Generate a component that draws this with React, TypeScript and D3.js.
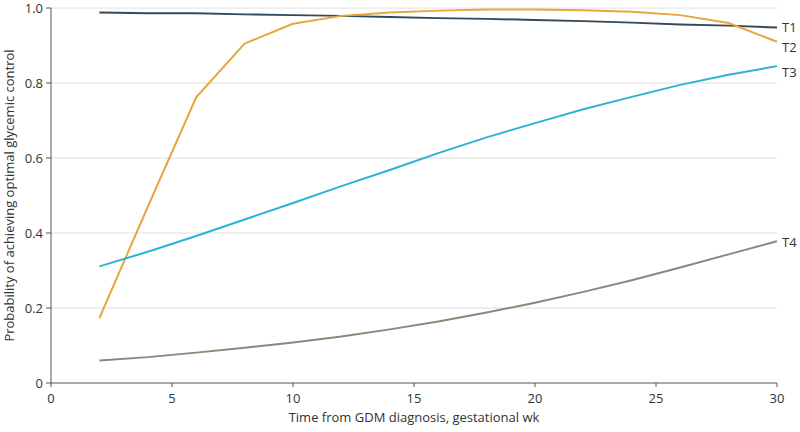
import * as d3 from "d3";
import React from "react";

const weeks = [2, 4, 6, 8, 10, 12, 14, 16, 18, 20, 22, 24, 26, 28, 30];
const t1 = [0.988, 0.986, 0.986, 0.983, 0.981, 0.979, 0.976, 0.973, 0.971, 0.968, 0.965, 0.961, 0.956, 0.953, 0.948];
const t2 = [0.173, 0.47, 0.762, 0.905, 0.958, 0.979, 0.988, 0.993, 0.996, 0.996, 0.994, 0.99, 0.981, 0.96, 0.91];
const t3 = [0.311, 0.35, 0.392, 0.436, 0.48, 0.525, 0.568, 0.613, 0.655, 0.693, 0.73, 0.763, 0.795, 0.822, 0.845];
const t4 = [0.06, 0.069, 0.081, 0.094, 0.108, 0.124, 0.143, 0.164, 0.188, 0.214, 0.243, 0.274, 0.308, 0.343, 0.378];

const seriesNames = ["T1", "T2", "T3", "T4"];
const seriesValues = [t1, t2, t3, t4];
const seriesColors = ["#34495a", "#e8a53c", "#2bb3d1", "#8a8977"];
const labelNudge = [0, 6, 6, 1];

const xTicks = [0, 5, 10, 15, 20, 25, 30];
const yTicks = [0, 0.2, 0.4, 0.6, 0.8, 1.0];

const width = 800;
const height = 432;
const margin = { top: 8, right: 23, bottom: 49, left: 51 };
const font = "'Open Sans', 'Noto Sans', sans-serif";

export default function App() {
  const x = d3.scaleLinear().domain([0, 30]).range([margin.left, width - margin.right]);
  const y = d3.scaleLinear().domain([0, 1]).range([height - margin.bottom, margin.top]);

  const line = d3
    .line<number>()
    .x((_, i) => x(weeks[i]))
    .y((d) => y(d));

  const x0 = x(0);
  const x1 = x(30);
  const y0 = y(0);

  return (
    <div style={{ position: "absolute", left: 0, top: 0 }}>
      <svg width={width} height={height} style={{ display: "block", fontFamily: font }}>
        <rect width={width} height={height} fill="#fff" />

        {/* grid */}
        {yTicks.filter((t) => t > 0).map((t) => (
          <line key={t} x1={x0} x2={x1} y1={y(t)} y2={y(t)} stroke="#dedede" strokeWidth={1} />
        ))}

        {/* axes */}
        <line x1={x0} x2={x0} y1={y(1)} y2={y0} stroke="#555" strokeWidth={1} />
        <line x1={x0} x2={x1} y1={y0} y2={y0} stroke="#555" strokeWidth={1} />

        {yTicks.map((t) => (
          <g key={t}>
            <line x1={x0 - 5} x2={x0} y1={y(t)} y2={y(t)} stroke="#555" />
            <text x={x0 - 8} y={y(t)} dy="0.35em" textAnchor="end" fontSize={13} fill="#333">
              {t === 0 ? "0" : d3.format(".1f")(t)}
            </text>
          </g>
        ))}

        {xTicks.map((t) => (
          <g key={t}>
            <line x1={x(t)} x2={x(t)} y1={y0} y2={y0 + 4} stroke="#555" />
            <text x={x(t)} y={y0 + 20} textAnchor="middle" fontSize={13} fill="#333">
              {t}
            </text>
          </g>
        ))}

        <text x={(x0 + x1) / 2} y={422} textAnchor="middle" fontSize={13} fill="#333">
          Time from GDM diagnosis, gestational wk
        </text>
        <text
          transform={`translate(14,${(y(1) + y0) / 2}) rotate(-90)`}
          textAnchor="middle"
          fontSize={13}
          fill="#333"
        >
          Probability of achieving optimal glycemic control
        </text>

        {/* series */}
        {seriesValues.map((vals, i) => (
          <g key={seriesNames[i]}>
            <path d={line(vals) ?? ""} fill="none" stroke={seriesColors[i]} strokeWidth={2} strokeLinejoin="round" />
            <text
              x={x1 + 5}
              y={y(vals[vals.length - 1]) + labelNudge[i]}
              dy="0.35em"
              fontSize={13}
              fill="#333"
            >
              {seriesNames[i]}
            </text>
          </g>
        ))}
      </svg>
    </div>
  );
}
